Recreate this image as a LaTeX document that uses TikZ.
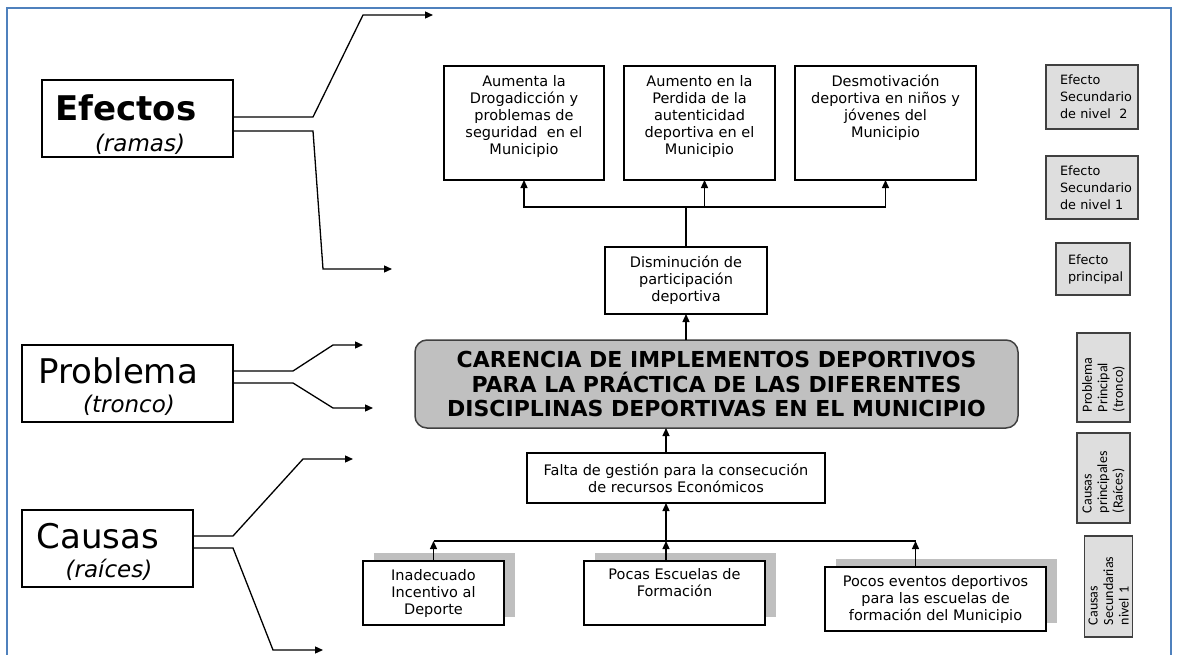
\documentclass[tikz,border=0pt]{standalone}
\usepackage{fontspec}
\setmainfont{DejaVu Sans}
\newfontfamily\carl{Carlito}
\usetikzlibrary{arrows.meta,shadows,calc}
\definecolor{frameblue}{RGB}{79,129,189}
\definecolor{maingray}{RGB}{192,192,192}
\definecolor{leggray}{RGB}{222,222,222}
\definecolor{shadowgray}{RGB}{191,191,191}
\definecolor{edgegray}{RGB}{64,64,64}
\newcommand{\tbx}[4]{\parbox[t][#2][t]{#1}{\vspace*{#3}\centering\strut#4\par}}
\begin{document}
\begin{tikzpicture}[x=1pt,y=-1pt,
  every node/.style={inner sep=0pt,outer sep=0pt},
  conn/.style={line width=1.3pt},
  arr/.style={conn,-{Triangle[length=8pt,width=7pt]}},
  box/.style={draw,line width=1.3pt,fill=white,font=\fontsize{14.5}{17}\selectfont},
  cbox/.style={box,align=center},
  sbox/.style={box,drop shadow={shadow xshift=11pt,shadow yshift=8pt,fill=shadowgray,opacity=1}},
  legend/.style={draw=edgegray,line width=1.3pt,fill=leggray,font=\fontsize{12.8}{17}\selectfont,align=left},
  rlegend/.style={draw=edgegray,line width=1.3pt,fill=leggray,font=\carl\fontsize{14}{15.5}\selectfont,align=left,rotate=90},
  catbox/.style={draw,line width=1.3pt,fill=white},
  titletext/.style={font=\fontsize{34}{40}\selectfont},
  subtext/.style={font=\itshape\fontsize{23}{26}\selectfont},
  mainbox/.style={draw=edgegray,line width=1.5pt,fill=maingray,rounded corners=12pt,align=center,font=\bfseries\fontsize{22}{24.5}\selectfont}
]
\fill[white] (0,0) rectangle (1182,655);
\useasboundingbox (0,0) rectangle (1182,655);
\draw[frameblue,line width=2pt] (7,662) -- (7,8) -- (1171,8) -- (1171,662);

% category boxes
\node[catbox,minimum width=191pt,minimum height=77pt] (efectos) at (137.5,118.5) {};
\node[titletext,font=\bfseries\fontsize{34}{40}\selectfont] (efectosT) at (126,108) {Efectos};
\node[subtext] (efectosS) at (140,144) {(ramas)};
\node[catbox,minimum width=211pt,minimum height=77pt] (problema) at (127.5,383.5) {};
\node[titletext] (problemaT) at (118,371) {Problema};
\node[subtext] (problemaS) at (129,405) {(tronco)};
\node[catbox,minimum width=171pt,minimum height=77pt] (causas) at (107.5,548.5) {};
\node[titletext] (causasT) at (98,536) {Causas};
\node[subtext] (causasS) at (109,570) {(raíces)};

\coordinate (eUp) at (433,15);
\coordinate (eDn) at (392,269);
\coordinate (pUp) at (363,345);
\coordinate (pDn) at (373,408);
\coordinate (cUp) at (353,459);
\coordinate (cDn) at (323,650);
\draw[arr] ([yshift=1.5pt]efectos.east) -- (313,117) -- (363,15) -- (eUp);
\draw[arr] ([yshift=-12.5pt]efectos.east) -- (313,131) -- (323,269) -- (eDn);
\draw[arr] ([yshift=12.5pt]problema.east) -- (293,371) -- (333,345) -- (pUp);
\draw[arr] ([yshift=0.5pt]problema.east) -- (293,383) -- (333,408) -- (pDn);
\draw[arr] ([yshift=12.5pt]causas.east) -- (233,536) -- (303,459) -- (cUp);
\draw[arr] ([yshift=0.5pt]causas.east) -- (233,548) -- (273,650) -- (cDn);

% main problem
\node[mainbox,minimum width=603pt,minimum height=88pt] (main) at (716.5,384)
  {CARENCIA DE IMPLEMENTOS DEPORTIVOS\\PARA LA PRÁCTICA DE LAS DIFERENTES\\DISCIPLINAS DEPORTIVAS EN EL MUNICIPIO};

% effects
\node[box] (b1) at (524,123) {\tbx{160pt}{114pt}{9pt}{Aumenta la\\Drogadicción y\\problemas de\\seguridad~ en el\\Municipio}};
\node[box] (b2) at (699.5,123) {\tbx{151pt}{114pt}{9pt}{Aumento en la\\Perdida de la\\autenticidad\\deportiva en el\\Municipio}};
\node[box] (b3) at (885.5,123) {\tbx{181pt}{114pt}{9pt}{Desmotivación\\deportiva en niños y\\jóvenes del\\Municipio}};
\node[cbox,minimum width=162pt,minimum height=67pt] (dism) at (686,280.5) {Disminución de\\participación\\deportiva};

% causes
\node[cbox,minimum width=298pt,minimum height=50pt] (falta) at (676,478) {Falta de gestión para la consecución\\de recursos Económicos};
\node[sbox,align=center,minimum width=141pt,minimum height=64pt] (inad) at (433.5,593) {Inadecuado\\Incentivo al\\Deporte};
\node[sbox] (pocas) at (674.5,593) {\tbx{181pt}{64pt}{7pt}{Pocas Escuelas de\\Formación}};
\node[sbox,align=center,minimum width=221pt,minimum height=64pt] (pocos) at (935.5,599) {Pocos eventos deportivos\\para las escuelas de\\formación del Municipio};

% effect connectors
\coordinate (jtop) at (686,207);
\coordinate (b2in) at ([xshift=5pt]b2.south);
\draw[conn] (dism.north) -- (jtop);
\draw[arr] (jtop) -| (b1.south);
\draw[arr] (jtop) -| (b3.south);
\draw[arr] (b2in |- jtop) -- (b2in);
\draw[arr] (main.north -| dism.south) -- (dism.south);

% cause connectors
\coordinate (jbot) at (666,541);
\coordinate (pocosin) at ([xshift=-20pt]pocos.north);
\draw[arr] (falta.north -| jbot) -- (main.south -| jbot);
\draw[arr] (jbot) -- (falta.south -| jbot);
\draw[conn] (inad.north |- jbot) -- (pocosin |- jbot);
\draw[arr] (pocas.north -| jbot) -- (jbot);
\draw[arr] (inad.north) -- (inad.north |- jbot);
\draw[arr] (pocosin) -- (pocosin |- jbot);

% legend
\node[legend,inner xsep=14pt,text width=64pt,minimum width=92pt,minimum height=64pt] (l1) at (1092,97) {Efecto\\Secundario\\\mbox{de nivel~~2}};
\node[legend,inner xsep=14pt,text width=64pt,minimum width=92pt,minimum height=63pt] (l2) at (1092,187.5) {Efecto\\Secundario\\\mbox{de nivel 1}};
\node[legend,inner xsep=12pt,text width=50pt,minimum width=74pt,minimum height=52pt] (l3) at (1093,269) {Efecto\\principal};
\node[rlegend,inner xsep=10pt,text width=69pt,minimum width=89pt,minimum height=53pt] (l4) at (1103.5,377.5) {Problema\\Principal\\(tronco)};
\node[rlegend,inner xsep=10pt,text width=70pt,minimum width=90pt,minimum height=53pt] (l5) at (1103.5,478) {Causas\\principales\\(Raíces)};
\node[rlegend,inner xsep=12pt,text width=77pt,minimum width=101pt,minimum height=48pt] (l6) at (1108.5,586.5) {Causas\\Secundarias\\nivel 1};
\end{tikzpicture}
\end{document}
